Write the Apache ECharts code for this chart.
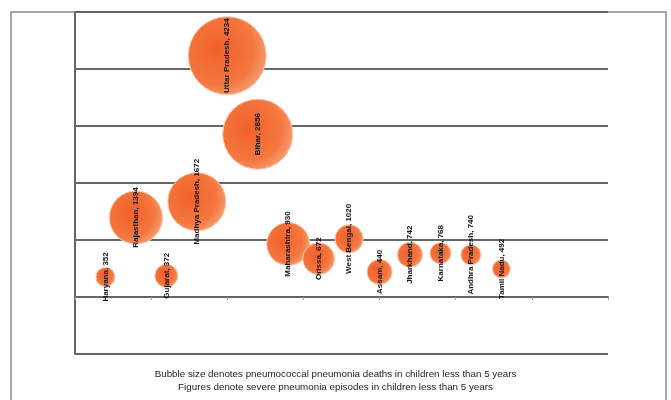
<!DOCTYPE html>
<html>
<head>
<meta charset="utf-8">
<script src="https://cdn.jsdelivr.net/npm/echarts@6/dist/echarts.min.js"></script>
<style>
  html, body { margin: 0; padding: 0; background: #ffffff; }
  #chart { width: 671px; height: 400px; }
</style>
</head>
<body>
<div id="chart"></div>
<script>
// States, in the order they are laid out along the horizontal axis
const states = [
  'Haryana', 'Rajasthan', 'Gujarat', 'Madhya Pradesh', 'Uttar Pradesh',
  'Bihar', 'Maharashtra', 'Orissa', 'West Bengal', 'Assam',
  'Jharkhand', 'Karnataka', 'Andhra Pradesh', 'Tamil Nadu'
];
// Horizontal position of each bubble
const xPos = [0.4, 0.8, 1.2, 1.6, 2.0, 2.4, 2.8, 3.2, 3.6, 4.0, 4.4, 4.8, 5.2, 5.6];
// Severe pneumonia episodes in children < 5 years (thousands) - vertical position and label figure
const episodes = [352, 1394, 372, 1672, 4234, 2856, 930, 672, 1020, 440, 742, 768, 740, 492];
// Pneumococcal pneumonia deaths in children < 5 years - bubble area
const deaths = [1800, 13900, 2600, 16600, 30000, 24200, 9100, 5000, 3900, 3100, 3100, 2200, 2000, 1600];

// Axis ranges
const yMin = -1000, yMax = 5000, yStep = 1000;
const xMin = 0, xMax = 7, xStep = 1;

const footnotes = [
  'Bubble size denotes pneumococcal pneumonia deaths in children less than 5 years',
  'Figures denote severe pneumonia episodes in children less than 5 years'
];

const maxDeaths = Math.max.apply(null, deaths);
const maxDiameter = 78;

const data = states.map((s, i) => [xPos[i], episodes[i], deaths[i], s]);

const chart = echarts.init(document.getElementById('chart'), null, { renderer: 'canvas' });

chart.setOption({
  backgroundColor: '#ffffff',
  animation: false,
  grid: { left: 75, right: 63, top: 12, bottom: 46, containLabel: false },
  xAxis: {
    type: 'value',
    min: xMin, max: xMax, interval: xStep,
    axisLine: { show: true, onZero: true, lineStyle: { color: '#666666', width: 2 } },
    axisTick: { show: true, length: 3, lineStyle: { color: '#a0a0a0', width: 1 } },
    axisLabel: { show: false },
    splitLine: { show: false }
  },
  yAxis: {
    type: 'value',
    min: yMin, max: yMax, interval: yStep,
    axisLine: { show: true, lineStyle: { color: '#666666', width: 2 } },
    axisTick: { show: false },
    axisLabel: { show: false },
    splitLine: { show: true, lineStyle: { color: '#666666', width: 2 } }
  },
  graphic: [
    {
      type: 'rect', silent: true, z: -1,
      shape: { x: 11, y: 12, width: 655, height: 400 },
      style: { fill: 'none', stroke: '#8c8c8c', lineWidth: 1.5 }
    },
    {
      type: 'text', left: 'center', top: 369,
      style: { text: footnotes[0], font: '9.8px "Liberation Sans", Arial, sans-serif', fill: '#222222' }
    },
    {
      type: 'text', left: 'center', top: 382,
      style: { text: footnotes[1], font: '9.8px "Liberation Sans", Arial, sans-serif', fill: '#222222' }
    }
  ],
  series: [{
    type: 'scatter',
    data: data,
    symbol: 'circle',
    symbolSize: function (val) {
      return maxDiameter * Math.sqrt(val[2] / maxDeaths);
    },
    itemStyle: {
      color: {
        type: 'radial', x: 0.38, y: 0.42, r: 0.7,
        colorStops: [
          { offset: 0, color: '#f3602a' },
          { offset: 0.65, color: '#f4773f' },
          { offset: 1, color: '#f8a87e' }
        ]
      },
      borderColor: '#fbc9ad',
      borderWidth: 1,
      opacity: 1
    },
    label: {
      show: true,
      position: 'inside',
      rotate: 90,
      fontSize: 8,
      fontWeight: 'bold',
      fontFamily: '"Liberation Sans", Arial, sans-serif',
      color: '#15151f',
      formatter: function (p) {
        return p.data[3] + ', ' + p.data[1];
      }
    },
    labelLayout: { hideOverlap: false },
    z: 3
  }]
});
</script>
</body>
</html>
